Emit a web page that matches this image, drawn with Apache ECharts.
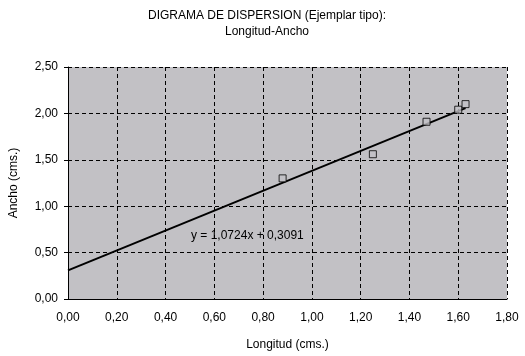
<!DOCTYPE html>
<html><head><meta charset="utf-8">
<script src="https://cdn.jsdelivr.net/npm/echarts@6/dist/echarts.min.js"></script>
<style>html,body{margin:0;padding:0;background:#fff}#c{width:525px;height:356px}</style>
</head><body><div id="c"></div>
<script>
const longitud = [0.88, 1.25, 1.47, 1.60, 1.63];
const ancho = [1.30, 1.56, 1.91, 2.04, 2.10];
const trendX = [0, 1.63];
const trendY = [0.3091, 2.057];
const equation = 'y = 1,0724x + 0,3091';
const titleLines = ['DIGRAMA DE DISPERSION (Ejemplar tipo):', 'Longitud-Ancho'];
const xName = 'Longitud (cms.)';
const yName = 'Ancho (cms.)';

const fmt = v => v.toFixed(2).replace('.', ',');
const font = 'Liberation Sans, Arial, sans-serif';
const chart = echarts.init(document.getElementById('c'), null, {renderer: 'canvas'});
chart.setOption({
  animation: false,
  backgroundColor: '#fff',
  title: {
    text: titleLines.join('\n'), left: 262, top: 3, textAlign: 'center',
    textStyle: {fontFamily: font, fontSize: 12, fontWeight: 'normal', color: '#000', lineHeight: 16}
  },
  grid: {left: 66, right: 18, top: 67, bottom: 54, show: true, backgroundColor: '#C2C1C5', borderWidth: 0},
  xAxis: {
    type: 'value', min: 0, max: 1.8, interval: 0.2,
    name: xName, nameLocation: 'middle', nameGap: 40,
    nameTextStyle: {fontFamily: font, fontSize: 12, color: '#000'},
    axisLine: {show: true, lineStyle: {color: '#000', width: 1}},
    axisTick: {show: false},
    axisLabel: {formatter: fmt, fontFamily: font, fontSize: 12, color: '#000', margin: 13},
    splitLine: {show: true, lineStyle: {color: '#000', type: [4, 3], width: 1}}
  },
  yAxis: {
    type: 'value', min: 0, max: 2.5, interval: 0.5,
    name: yName, nameLocation: 'middle', nameGap: 48, nameRotate: 90,
    nameTextStyle: {fontFamily: font, fontSize: 12, color: '#000'},
    axisLine: {show: true, lineStyle: {color: '#000', width: 1}},
    axisTick: {show: true, inside: false, length: 4, lineStyle: {color: '#000'}},
    axisLabel: {formatter: fmt, fontFamily: font, fontSize: 12, color: '#000', margin: 10},
    splitLine: {show: true, lineStyle: {color: '#000', type: [4, 3], width: 1}}
  },
  graphic: [{
    type: 'text', left: 191, top: 230,
    style: {text: equation, font: '12px ' + font, fill: '#000'}
  }],
  series: [
    {
      type: 'line', data: trendX.map((x, i) => [x, trendY[i]]),
      symbol: 'none', lineStyle: {color: '#000', width: 2}, z: 2
    },
    {
      type: 'scatter', data: longitud.map((x, i) => [x, ancho[i]]),
      symbol: 'rect', symbolSize: 7,
      itemStyle: {color: '#C2C1C5', borderColor: '#000', borderWidth: 1}, z: 3
    }
  ]
});
</script></body></html>
